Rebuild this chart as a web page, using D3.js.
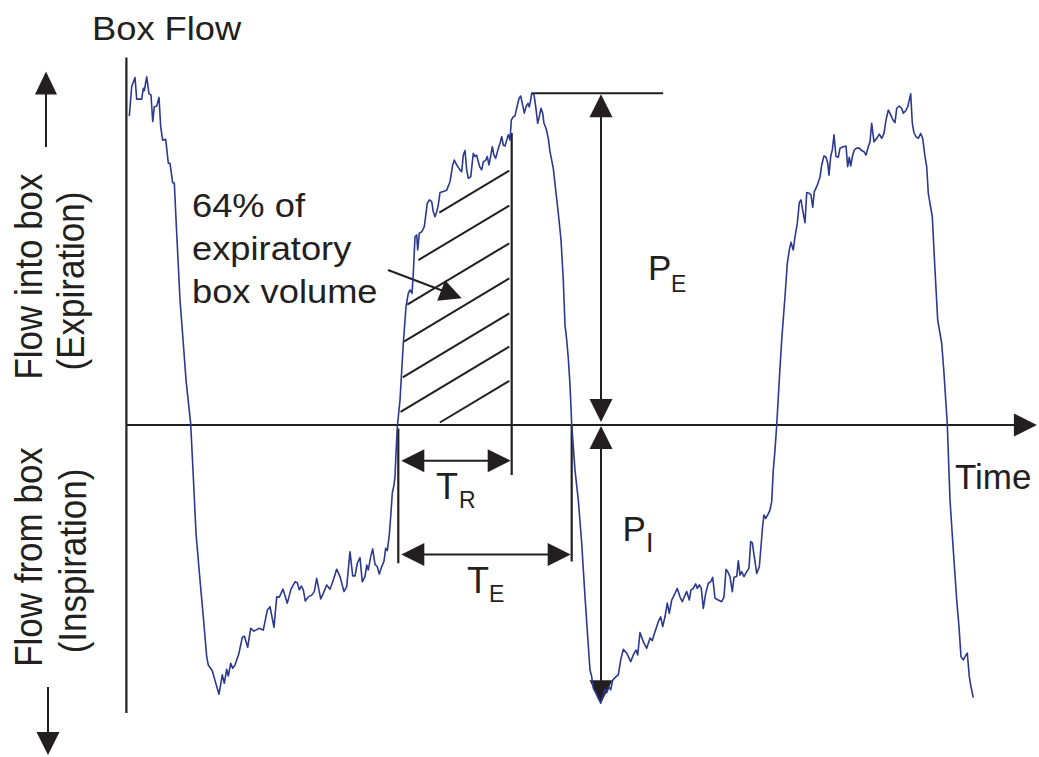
<!DOCTYPE html>
<html>
<head>
<meta charset="utf-8">
<script src="https://cdn.jsdelivr.net/npm/d3@7"></script>
<style>
  body { margin: 0; background: #fff; }
  svg { display: block; }
  text { font-family: "Liberation Sans", Arial, Helvetica, sans-serif; fill: #231f20; }
</style>
</head>
<body>
<svg id="chart" width="1039" height="757"></svg>
<script>
// Box flow trace (arbitrary units): positive = flow into box (expiration)
const time = [
  0.77, 1.57, 2.67, 3.23, 4.9, 5.43, 5.77, 6.57, 7.33, 8.0, 8.57, 9.1, 9.9, 10.67, 11.23, 11.9, 12.9,
  13.77, 14.33, 15.23, 15.77, 16.57, 17.67, 18.77, 19.67, 21.23, 22.1, 23.0, 24.33, 25.43, 26.57, 27.1,
  28.43, 29.43, 30.67, 31.77, 32.43, 33.23, 33.77, 34.57, 35.23, 36.0, 37.33, 38.43, 39.1, 40.23, 41.23,
  42.33, 44.0, 45.43, 46.77, 47.67, 49.0, 49.9, 50.77, 52.0, 53.43, 54.67, 56.0, 56.77, 57.43, 58.1,
  58.77, 59.43, 60.43, 61.57, 62.43, 63.23, 64.57, 65.43, 66.57, 67.67, 68.77, 69.9, 71.0, 72.33, 73.23,
  74.33, 75.23, 76.0, 76.77, 77.67, 78.43, 79.33, 79.9, 80.43, 81.23, 81.9, 82.67, 83.43, 84.1, 84.9,
  85.67, 86.23, 86.77, 87.43, 87.9, 88.43, 89.0, 89.33, 89.67, 90.1, 91.0, 92.1, 93.0, 93.77, 94.33,
  95.0, 95.43, 96.0, 96.57, 96.9, 97.43, 98.23, 99.1, 100.1, 100.77, 101.57, 102.1, 102.67, 103.23,
  103.77, 104.33, 105.43, 106.57, 107.67, 108.57, 109.1, 109.9, 111.0, 111.57, 112.1, 112.67, 113.23,
  113.77, 114.57, 115.43, 116.0, 116.57, 117.1, 117.67, 118.23, 118.77, 119.57, 120.1, 120.67, 121.23,
  121.77, 122.33, 122.9, 123.57, 124.33, 124.9, 125.43, 126.0, 126.57, 127.1, 127.67, 128.1, 128.77,
  129.33, 129.9, 130.67, 131.23, 131.9, 132.43, 133.0, 133.67, 134.1, 134.57, 134.9, 135.67, 136.1,
  136.57, 136.9, 137.43, 138.0, 138.57, 139.0, 139.67, 140.43, 141.0, 142.1, 142.9, 143.77, 144.67,
  145.43, 146.0, 146.57, 147.1, 147.67, 148.23, 149.33, 150.43, 151.57, 152.67, 153.57, 154.33, 154.9,
  155.43, 156.33, 157.1, 157.9, 158.77, 159.33, 159.9, 160.67, 161.23, 161.9, 163.0, 163.77, 164.57,
  165.43, 166.57, 167.9, 168.77, 169.67, 170.23, 171.0, 172.1, 173.23, 174.33, 175.1, 176.0, 177.1,
  177.9, 178.57, 179.33, 180.1, 180.77, 181.57, 182.67, 183.43, 184.33, 185.1, 185.77, 186.57, 187.43,
  188.0, 188.77, 189.57, 190.1, 190.77, 191.43, 192.1, 192.9, 193.77, 194.57, 195.23, 196.0, 197.1,
  198.23, 199.0, 199.67, 200.23, 201.0, 201.77, 202.33, 203.23, 203.77, 204.33, 204.9, 205.67, 206.57,
  207.33, 207.9, 208.43, 209.1, 209.9, 210.77, 211.33, 211.9, 212.33, 212.9, 213.57, 214.33, 214.9,
  215.43, 216.0, 216.57, 217.43, 218.23, 219.33, 220.1, 220.77, 221.33, 222.1, 222.67, 223.43, 224.1,
  224.67, 225.23, 226.0, 226.57, 227.43, 228.0, 228.57, 229.1, 229.9, 231.0, 231.57, 232.33, 233.0,
  233.57, 234.0, 234.57, 235.1, 235.67, 236.33, 237.1, 237.67, 238.77, 239.67, 240.23, 240.77, 241.23,
  241.9, 242.43, 243.23, 244.1, 244.9, 245.67, 246.33, 247.1, 247.67, 248.23, 249.0, 249.9, 250.77,
  251.57, 252.33, 253.0, 253.77, 254.57, 255.23, 256.0, 256.57, 257.43, 258.23, 258.77, 259.57, 260.23,
  261.23, 261.77, 262.33, 263.0, 263.77, 264.57, 265.23, 266.0, 266.57, 267.1, 268.43, 269.33, 270.23,
  271.57, 272.33, 273.43, 274.33, 275.43, 276.57, 277.33, 278.0, 278.77, 279.67, 280.1, 280.77, 281.33,
  282.1
];
const flow = [
  88.3, 96.7, 99.3, 93.1, 93.1, 96.2, 95.5, 99.5, 94.6, 94.3, 86.7, 90.9, 91.1, 93.6, 85.2, 81.4, 81.6,
  74.8, 74.8, 69.2, 69.1, 54.8, 35.7, 23.3, 12.9, 0.3, -14.8, -30.9, -44.3, -54.8, -66.2, -68.6,
  -70.2, -73.3, -76.9, -71.4, -73.8, -69.8, -71.7, -68.1, -69.5, -68.6, -65.2, -60.7, -60.3, -63.5, -58.1,
  -58.9, -58.1, -58.6, -52.9, -51.9, -57.8, -49.1, -49.2, -46.9, -50.9, -46.9, -44.8, -45.1, -47.1, -46.0,
  -47.1, -50.3, -49.1, -48.6, -47.6, -43.8, -49.7, -48.1, -45.7, -46.9, -44.3, -41.2, -43.3, -47.6, -46.2,
  -36.2, -43.1, -43.1, -39.5, -37.9, -44.8, -43.3, -40.0, -41.4, -37.6, -35.4, -39.8, -40.5, -42.6, -40.5,
  -38.9, -35.2, -35.9, -31.4, -26.2, -19.5, -17.1, -14.8, -8.1, -0.5, 7.1, 23.3, 33.8, 37.6, 38.6,
  37.6, 43.3, 53.8, 54.3, 50.0, 54.8, 55.2, 56.7, 63.3, 64.3, 63.8, 60.9, 59.5, 60.9,
  62.9, 66.4, 66.7, 67.1, 69.5, 74.3, 75.7, 74.3, 72.9, 72.4, 77.1, 78.4, 72.9,
  70.5, 70.9, 77.6, 76.7, 77.1, 75.2, 73.6, 72.9, 75.2, 75.7, 76.7, 74.3, 76.9,
  79.5, 77.1, 76.2, 78.4, 80.5, 82.4, 80.0, 79.7, 81.4, 82.9, 81.4, 87.1, 88.1,
  88.3, 90.5, 93.3, 94.0, 91.4, 89.1, 90.9, 91.9, 90.9, 92.9, 94.8, 94.3, 91.9,
  88.6, 86.2, 88.1, 90.5, 89.1, 86.2, 84.8, 81.9, 78.1, 73.3, 67.1, 60.5, 52.9,
  41.4, 28.6, 24.3, 19.1, 11.4, 0.2, -12.9, -21.4, -33.8, -49.1, -60.5, -70.0, -71.9,
  -75.2, -76.7, -78.1, -79.5, -77.1, -75.5, -76.5, -74.8, -75.7, -72.9, -71.9, -71.4, -67.1,
  -64.1, -65.2, -67.6, -65.7, -64.3, -65.7, -59.3, -61.9, -63.8, -60.9, -61.6, -59.1, -56.2,
  -54.8, -57.6, -54.8, -50.9, -53.8, -50.0, -48.1, -46.7, -49.1, -50.5, -49.1, -47.6, -50.0,
  -47.1, -46.7, -45.4, -46.7, -45.7, -46.7, -52.4, -48.1, -45.2, -44.8, -43.5, -49.5, -50.0,
  -50.5, -49.1, -41.2, -41.9, -43.3, -47.6, -43.5, -43.3, -38.8, -42.9, -41.9, -43.3, -41.9,
  -40.9, -33.3, -33.6, -37.6, -42.4, -40.5, -34.8, -28.6, -25.7, -26.7, -25.7, -24.3, -21.9,
  -12.9, -7.1, 0.0, 12.9, 24.3, 36.7, 46.2, 50.0, 52.2, 50.0, 53.8, 57.6, 63.5,
  64.3, 61.4, 57.8, 66.4, 66.2, 65.7, 62.2, 66.7, 68.1, 70.8, 74.3, 76.9, 76.5,
  74.8, 71.4, 76.7, 78.6, 82.9, 76.7, 76.5, 79.1, 79.5, 79.7, 73.8, 76.5, 74.0,
  77.1, 78.6, 79.1, 79.1, 78.4, 78.1, 77.1, 79.5, 80.9, 86.2, 80.9, 81.9, 83.1,
  81.9, 83.3, 87.1, 90.0, 88.6, 87.3, 86.4, 90.5, 91.1, 90.5, 89.1, 89.8, 90.9,
  94.6, 86.2, 83.5, 82.4, 81.9, 83.3, 81.9, 76.7, 73.8, 66.2, 59.5, 44.3, 30.0,
  23.3, 14.8, 0.3, -21.4, -35.7, -50.0, -57.6, -66.2, -67.1, -65.7, -65.2, -71.9, -74.8,
  -77.9
];

// Timing markers of the measured breath (time units)
const tBreathStart = 90.43;   // start of expiration
const tRelax = 128.23;        // time to expire 64% of the volume
const tExpEnd = 148.23;       // end of expiration
const tPeakMarker = 158;      // position of the P_E / P_I arrows
const tPeakLineEnd = 178.7;

// Hatched region: right ends of the hatch lines (flow) and their left ends (time)
const hatchRightFlow = [72.7, 62.7, 51.9, 41.9, 31.9, 22.4, 12.6];
const hatchLeftTime = [104.1, 97.1, 93.4, 92.3, 91.9, 91.2, 104.3];
const hatchRightTime = 127.43;
const hatchSlope = 0.514;     // flow units per time unit

// Vertical extents of the timing marker lines (flow units)
const markerTopFlow = 83.4;
const tRArrowFlow = -10.2;
const tEArrowFlow = -37.0;
const tRLineBottom = -14.3;
const tELineBottom = -39.0;
const tStartLineBottom = -39.5;

const svg = d3.select("#chart");
const x = d3.scaleLinear().domain([0, 300]).range([127, 1027]);
const y = d3.scaleLinear().domain([-100, 100]).range([775, 75]);

const ink = "#231f20";
const traceColor = "#2b3990";

function arrowHead(g, tipX, tipY, dx, dy, len = 23, w = 23) {
  const n = Math.hypot(dx, dy); dx /= n; dy /= n;
  const bx = tipX - dx * len, by = tipY - dy * len;
  const px = -dy * w / 2, py = dx * w / 2;
  g.append("path")
    .attr("d", `M${tipX},${tipY}L${bx + px},${by + py}L${bx - px},${by - py}Z`)
    .attr("fill", ink);
}
function seg(g, x1, y1, x2, y2, sw = 2) {
  g.append("line").attr("x1", x1).attr("y1", y1).attr("x2", x2).attr("y2", y2)
    .attr("stroke", ink).attr("stroke-width", sw);
}

const axes = svg.append("g");
// vertical (flow) axis
seg(axes, x(-0.2), y(105), x(-0.2), y(-82.3), 2.2);
// horizontal (time) axis with arrow
const axisEnd = x(303.3);
seg(axes, x(0), y(0), axisEnd - 20, y(0), 2.2);
arrowHead(axes, axisEnd, y(0), 1, 0, 23, 23);

// Direction arrows beside the rotated labels
seg(axes, 46, 147, 46, 92, 2);
arrowHead(axes, 46, 71.5, 0, -1, 23, 22);
seg(axes, 48, 687, 48, 735, 2);
arrowHead(axes, 48, 755, 0, 1, 23, 23);

// Hatching under the expiratory curve
const ann = svg.append("g");
hatchRightFlow.forEach((fr, i) => {
  const tl = hatchLeftTime[i];
  const fl = fr - hatchSlope * (hatchRightTime - tl);
  seg(ann, x(tl), y(fl), x(hatchRightTime), y(fr), 2);
});

// Timing marker lines
seg(ann, x(tRelax), y(markerTopFlow), x(tRelax), y(tRLineBottom), 2.2);
seg(ann, x(tBreathStart), y(-1), x(tBreathStart), y(tStartLineBottom), 2.2);
seg(ann, x(tExpEnd), y(0), x(tExpEnd), y(tELineBottom), 2.2);

// T_R and T_E double arrows
[[tRArrowFlow, tRelax], [tEArrowFlow, tExpEnd]].forEach(([fv, tEnd]) => {
  const yy = y(fv), x1 = x(tBreathStart) + 3, x2 = x(tEnd) - 1;
  seg(ann, x1 + 20, yy, x2 - 20, yy, 2);
  arrowHead(ann, x1, yy, -1, 0, 23, 23);
  arrowHead(ann, x2, yy, 1, 0, 23, 23);
});

// Peak expiratory / inspiratory flow arrows
const peakIdx = d3.range(time.length).filter(i => time[i] > 128 && time[i] < 140);
const peakE = d3.max(peakIdx, i => flow[i]);
const troughIdx = d3.range(time.length).filter(i => time[i] > 150 && time[i] < 165);
const peakI = d3.min(troughIdx, i => flow[i]);
const px = x(tPeakMarker);
seg(ann, x(134.9), y(peakE), x(tPeakLineEnd), y(peakE), 2);
seg(ann, px, y(peakE) + 18, px, y(0) - 20, 2);
arrowHead(ann, px, y(peakE) + 1, 0, -1, 23, 23);
arrowHead(ann, px, y(0) - 3, 0, 1, 23, 23);
seg(ann, px, y(0) + 20, px, y(peakI) - 18, 2);
arrowHead(ann, px, y(0) + 1, 0, -1, 23, 23);
arrowHead(ann, px, y(peakI), 0, 1, 23, 23);

// Pointer to the hatched area
seg(ann, 388, 270, 446, 292, 2);
arrowHead(ann, 461.7, 298.3, 73.7, 28.3, 22, 22);

// Flow trace
const line = d3.line().x((d, i) => x(time[i])).y((d, i) => y(flow[i]));
svg.append("path")
  .datum(flow)
  .attr("d", line)
  .attr("fill", "none")
  .attr("stroke", traceColor)
  .attr("stroke-width", 1.6)
  .attr("stroke-linejoin", "round");

// Text
const txt = svg.append("g");
function label(s, tx, ty, size, sx = 1, anchor = "start") {
  return txt.append("text")
    .attr("transform", `translate(${tx},${ty}) scale(${sx},1)`)
    .attr("font-size", size)
    .attr("text-anchor", anchor)
    .text(s);
}
label("Box Flow", 92, 39.5, 33, 1.1);
label("Time", 955, 488.5, 35);
label("64% of", 192, 217, 33, 1.1);
label("expiratory", 192, 260, 33, 1.1);
label("box volume", 192, 303, 33, 1.1);

label("P", 648, 280, 35);
label("E", 671, 292, 23);
label("P", 622.5, 541, 35);
label("I", 646, 552, 27);
label("T", 436, 498.5, 36);
label("R", 459, 508, 23);
label("T", 467, 593, 36);
label("E", 489, 602, 23);

function vlabel(s, bx, cy) {
  txt.append("text")
    .attr("transform", `translate(${bx},${cy}) scale(1.12,1) rotate(-90)`)
    .attr("font-size", 35)
    .attr("text-anchor", "middle")
    .text(s);
}
vlabel("Flow into box", 41.5, 276.5);
vlabel("(Expiration)", 84, 281);
vlabel("Flow from box", 41.5, 557);
vlabel("(Inspiration)", 86, 561);
</script>
</body>
</html>
